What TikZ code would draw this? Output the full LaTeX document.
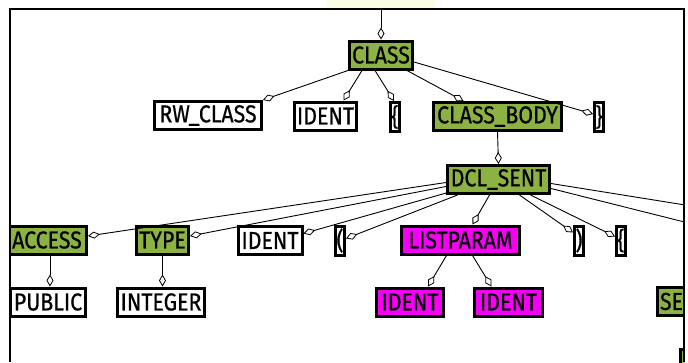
\documentclass[tikz,border=0pt]{standalone}
\usepackage{fontspec}
\setmainfont{Fira Sans}[FakeStretch=0.87, FakeBold=0.6]
\usetikzlibrary{arrows.meta,shadows}
\definecolor{nodegreen}{RGB}{141,178,68}
\definecolor{nodepink}{RGB}{245,0,245}
\definecolor{paleroot}{RGB}{250,252,228}
\tikzset{
  tok/.style={draw=black, line width=3pt, inner sep=0pt, minimum height=28pt,
    drop shadow={shadow xshift=1.5pt, shadow yshift=-1.5pt, fill=black, opacity=1},
    font=\fontsize{24.5}{25}\selectfont},
  nt/.style={tok, fill=nodegreen},
  lst/.style={tok, fill=nodepink},
  leaf/.style={tok, fill=white},
  brace/.style={tok, fill=white, minimum width=9pt, minimum height=29pt},
  link/.style={line width=0.9pt,
    -{Diamond[fill=white, length=12pt, width=7pt, line width=0.8pt]}}
}
\begin{document}
\begin{tikzpicture}[x=1pt, y=-1pt]
\useasboundingbox (0,0) rectangle (688,362);
% parent of CLASS, cut off above the frame
\fill[paleroot] (327,0) rectangle (435,8);
\begin{scope}
\clip (10,9) rectangle (684,362);
% level 1
\node[nt, minimum width=63pt] (class) at (381,55) {CLASS};
% level 2
\node[leaf, minimum width=107pt] (rwclass) at (208,115.5) {RW\_CLASS};
\node[leaf, minimum width=62pt] (ident) at (325.5,116) {IDENT};
\node[brace] (lbrace) at (395,117) {\{};
\node[nt, minimum width=128pt] (classbody) at (497.5,116.5) {CLASS\_BODY};
\node[brace] (rbrace) at (599,117) {\}};
% level 3
\node[nt, minimum width=102pt] (dclsent) at (498.5,179.5) {DCL\_SENT};
% level 4
\node[nt, minimum width=79pt] (access) at (47,240) {ACCESS};
\node[nt, minimum width=52pt] (type) at (162.5,240) {TYPE};
\node[leaf, minimum width=64pt] (identb) at (270,240.5) {IDENT};
\node[brace] (lparen) at (340,240.5) {(};
\node[lst, minimum width=118pt] (listparam) at (460.5,240) {LISTPARAM};
\node[brace] (rparen) at (579,240.5) {)};
\node[brace] (lbraceb) at (621,240.5) {\{};
% level 5
\node[leaf, minimum width=75pt] (public) at (48,302) {PUBLIC};
\node[leaf, minimum width=87pt] (integer) at (161,302) {INTEGER};
\node[lst, minimum width=67pt] (identc) at (410,302) {IDENT};
\node[lst, minimum width=68pt] (identd) at (508.5,302) {IDENT};
\node[nt, anchor=west, minimum width=80pt, text width=74pt, align=left] (se) at (655.5,301.5) {SE};
\node[nt, anchor=north west, minimum width=60pt] (next) at (678.5,347.5) {};
% free ends
\coordinate (root) at (381,-10);
\coordinate (offa) at (760,217);
\coordinate (offb) at (760,241);
% edges
\draw[link] (root) -- (class);
\draw[link] (class.south west) -- (rwclass.north east);
\draw[link] ([xshift=-19pt]class.south) -- ([xshift=18pt]ident.north);
\draw[link] ([xshift=-6pt]class.south) -- ([xshift=-1pt]lbrace.north);
\draw[link] ([xshift=26pt]class.south) -- ([xshift=-34pt]classbody.north);
\draw[link] ([yshift=-7pt]class.east) -- ([yshift=3pt]rbrace.west);
\draw[link] (classbody.south) -- (dclsent.north);
\draw[link] ([yshift=-3pt]dclsent.west) -- ([yshift=4pt]access.east);
\draw[link] ([yshift=-7pt]dclsent.west) -- ([yshift=4pt]type.east);
\draw[link] ([xshift=2pt, yshift=-13pt]dclsent.west) -- ([yshift=7pt]identb.east);
\draw[link] ([xshift=-41pt]dclsent.south) -- ([yshift=2pt]lparen.east);
\draw[link] ([xshift=-9pt]dclsent.south) -- ([xshift=12pt]listparam.north);
\draw[link] ([xshift=21pt]dclsent.south) -- ([yshift=8pt]rparen.west);
\draw[link] ([xshift=32pt]dclsent.south) -- ([yshift=4pt]lbraceb.west);
\draw[line width=0.9pt] ([yshift=-4pt]dclsent.east) -- (offa);
\draw[line width=0.9pt] ([yshift=-9pt]dclsent.east) -- (offb);
\draw[link] ([xshift=-14pt]listparam.south) -- ([xshift=18pt]identc.north);
\draw[link] ([xshift=12pt]listparam.south) -- ([xshift=-17pt]identd.north);
\draw[link] ([xshift=3pt]access.south) -- ([xshift=2pt]public.north);
\draw[link] (type.south) -- ([xshift=1.5pt]integer.north);
\end{scope}
% frame
\draw[line width=1.5pt] (10,362) -- (10,9) -- (684,9) -- (684,362);
\end{tikzpicture}
\end{document}
